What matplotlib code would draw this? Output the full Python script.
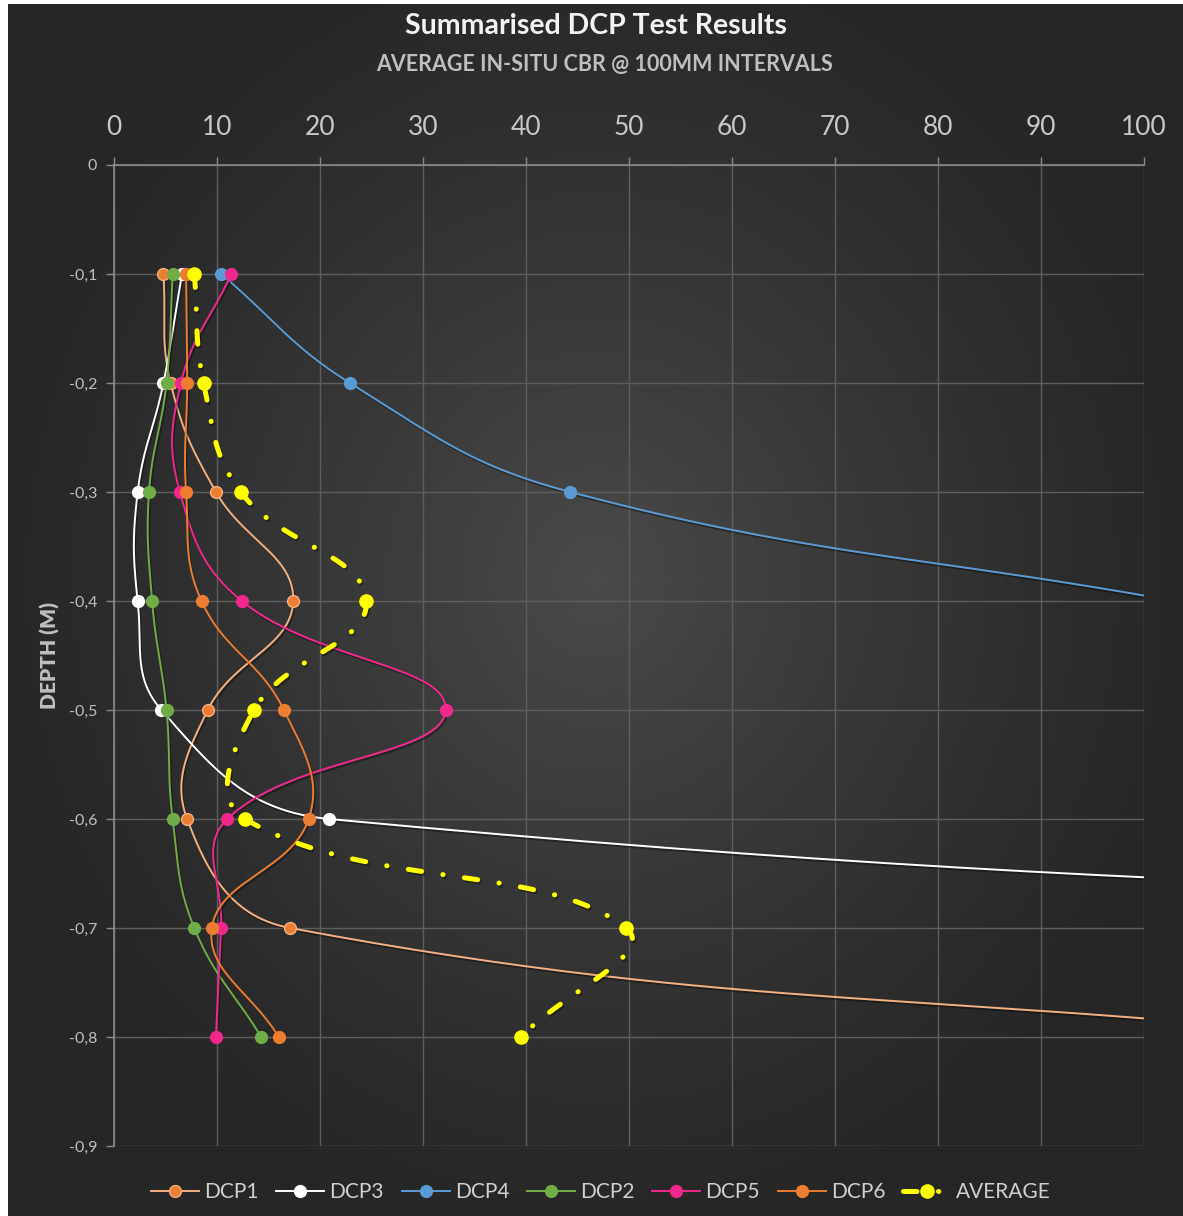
import matplotlib
matplotlib.use("Agg")
import matplotlib.pyplot as plt
import matplotlib.patheffects as pe
from matplotlib.ticker import FuncFormatter
import numpy as np

plt.rcParams['font.family'] = ['Lato', 'DejaVu Sans']

# depth of each reading (m)
depth = [-0.1, -0.2, -0.3, -0.4, -0.5, -0.6, -0.7, -0.8]

# in-situ CBR per test hole
dcp1 = [4.8, 5.5, 9.9, 17.4, 9.1, 7.1, 17.1, 120]
dcp3 = [6.6, 4.8, 2.3, 2.3, 4.6, 20.9, 230]
dcp4 = [10.4, 22.9, 44.3, 103]
dcp2 = [5.7, 5.1, 3.4, 3.7, 5.1, 5.7, 7.8, 14.3]
dcp5 = [11.4, 6.5, 6.4, 12.4, 32.2, 11.0, 10.4, 9.9]
dcp6 = [7.0, 7.1, 7.0, 8.5, 16.5, 18.9, 9.5, 16.0]
average = [7.8, 8.7, 12.3, 24.5, 13.6, 12.7, 49.7, 39.5]

series = [
    ("DCP1", dcp1, "#F4B183", "#ED7D31"),
    ("DCP3", dcp3, "#FFFFFF", "#FFFFFF"),
    ("DCP4", dcp4, "#5B9BD5", "#5B9BD5"),
    ("DCP2", dcp2, "#70AD47", "#70AD47"),
    ("DCP5", dcp5, "#F0288C", "#F0288C"),
    ("DCP6", dcp6, "#ED7D31", "#ED7D31"),
]

W, H = 1183, 1216
fig = plt.figure(figsize=(W / 100, H / 100), dpi=100, facecolor="white")

# dark radial backdrop
bg = fig.add_axes([8 / W, 0, 1 - 8 / W, 1 - 4 / H], zorder=-10)
gx, gy = np.meshgrid(np.linspace(-1, 1, 400), np.linspace(-1, 1, 400))
r = np.clip(np.sqrt((gx * 0.95) ** 2 + ((gy + 0.05) * 0.9) ** 2), 0, 1)
shade = 0.150 + (0.290 - 0.150) * (1 - r) ** 1.2
bg.imshow(np.dstack([shade, shade, shade]), extent=[0, 1, 0, 1], aspect="auto")
bg.axis("off")

ax = fig.add_axes([114 / W, 70 / H, 1030 / W, 981 / H])
ax.set_facecolor("none")
ax.set_xlim(0, 100)
ax.set_ylim(-0.9, 0)

grid_c = "#5e5e5e"
axis_c = "#8a8a8a"
ax.set_xticks(np.arange(0, 101, 10))
ax.set_yticks(np.round(np.arange(-0.9, 0.01, 0.1), 1))
ax.grid(True, color=grid_c, linewidth=1.0)
ax.set_axisbelow(True)
for s in ["bottom", "right"]:
    ax.spines[s].set_visible(False)
ax.spines["top"].set_color(axis_c)
ax.spines["left"].set_color(axis_c)
ax.spines["top"].set_linewidth(1.2)
ax.spines["left"].set_linewidth(1.2)
ax.xaxis.tick_top()
ax.tick_params(axis="x", colors=axis_c, length=6, width=1.0, pad=12,
               labelsize=19, labelcolor="#c8c8c8")
ax.tick_params(axis="y", colors=axis_c, length=6, width=1.0, pad=6,
               labelsize=11.5, labelcolor="#bfbfbf")
ax.yaxis.set_major_formatter(FuncFormatter(
    lambda v, p: "0" if abs(v) < 1e-9 else f"{v:.1f}".replace(".", ",")))
ax.set_ylabel("DEPTH (M)", fontsize=15, fontweight="heavy", color="#bfbfbf", labelpad=6)


def smooth(xs, ys, n=60, k=0.42):
    # bezier smoothing through the points, done in screen space;
    # handle length follows the length of the neighbouring segment
    pts = ax.transData.transform(np.column_stack([xs, ys]))
    m = len(pts)
    outs, ins = [], []
    for i in range(m):
        a = pts[max(i - 1, 0)]
        b = pts[min(i + 1, m - 1)]
        tan = b - a
        dp = np.hypot(*(pts[i] - a))
        dn = np.hypot(*(b - pts[i]))
        tot = dp + dn if dp + dn > 0 else 1.0
        outs.append(pts[i] + tan * k * dn / tot)
        ins.append(pts[i] - tan * k * dp / tot)
    t = np.linspace(0, 1, n)[:, None]
    parts = []
    for i in range(m - 1):
        p1, c1, c2, p2 = pts[i], outs[i], ins[i + 1], pts[i + 1]
        seg = (1 - t) ** 3 * p1 + 3 * (1 - t) ** 2 * t * c1 + 3 * (1 - t) * t ** 2 * c2 + t ** 3 * p2
        parts.append(seg if i == 0 else seg[1:])
    curve = ax.transData.inverted().transform(np.vstack(parts))
    return curve[:, 0], curve[:, 1]


shadow = [pe.SimpleLineShadow(offset=(1, -1.5), alpha=0.35, shadow_color="black"), pe.Normal()]
handles = []
for z, (name, vals, lc, mc) in enumerate(series):
    d = depth[:len(vals)]
    sx, sy = smooth(vals, d)
    ax.plot(sx, sy, color=lc, linewidth=1.4, zorder=3 + z, path_effects=shadow)
    ax.plot(vals, d, "o", color=mc, markeredgecolor=lc, markersize=8.5,
            markeredgewidth=1.0, zorder=3 + z)
    h, = ax.plot([], [], "-o", color=lc, markerfacecolor=mc, markeredgecolor=lc,
                 markersize=8.5, linewidth=1.4)
    handles.append((h, name))

ax_, ay_ = smooth(average, depth)
dash = (2.7, 4.3, 0.05, 4.3)
ax.plot(ax_, ay_, color="#FFFF00", linewidth=3.6, dashes=dash,
        dash_capstyle="round", zorder=12, path_effects=shadow)
ax.plot(average, depth, "o", color="#FFFF00", markersize=9.5, zorder=12)
h, = ax.plot([], [], "o", color="#FFFF00", markersize=9.5, linewidth=3.6,
             linestyle=(0, dash), dash_capstyle="round")
handles.append((h, "AVERAGE"))

leg = fig.legend([h for h, _ in handles], [n for _, n in handles], loc="center",
                 bbox_to_anchor=(0.508, 24 / H), ncol=7, frameon=False, fontsize=15,
                 handlelength=2.3, handletextpad=0.25, columnspacing=0.85)
for t in leg.get_texts():
    t.set_color("#d0d0d0")

fig.text(596 / W, 1 - 26 / H, "Summarised DCP Test Results", ha="center", va="center",
         fontsize=20.5, fontweight="bold", color="#f2f2f2")
fig.text(604 / W, 1 - 64 / H, "AVERAGE IN-SITU CBR @ 100MM INTERVALS", ha="center", va="center",
         fontsize=15.5, fontweight="bold", color="#bfbfbf")

fig.savefig("out.png", dpi=100, facecolor=fig.get_facecolor())
